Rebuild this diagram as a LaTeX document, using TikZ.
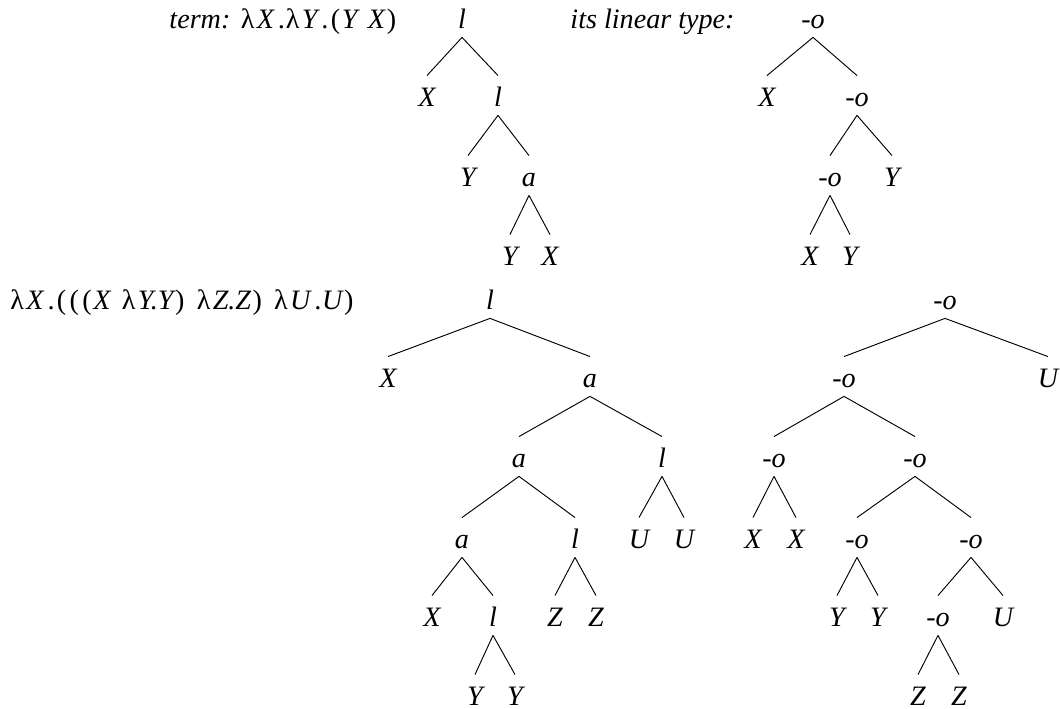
\documentclass[tikz,border=0pt]{standalone}
\usepackage{fontspec}
\setmainfont{Liberation Serif}
\usepackage{tikz}

\newcommand{\lm}{\textup{λ}\kern1pt}
\newcommand{\lp}{\kern.7pt\textup{(}\kern.7pt}
\newcommand{\rp}{\kern.7pt\textup{)}\kern.7pt}
\tikzset{
  tn/.style={anchor=base, inner sep=0pt, text height=12.8pt, text depth=3.8pt,
    font=\fontsize{12}{14}\selectfont\itshape},
  lab/.style={anchor=base west, inner sep=0pt, font=\fontsize{12}{14}\selectfont\itshape}
}

\begin{document}
\begin{tikzpicture}[x=0.015cm, y=-0.015cm]
\useasboundingbox (0,0) rectangle (1060,708);

\node[lab] (term) at (169,28){term:\hspace{4.5pt}\lm X\kern2pt.\lm Y\kern2pt.\lp Y\hspace{4.5pt}X\rp};
\node[lab] (ltype) at (570,28){its linear type:};
\node[lab] (term2) at (10,309){\lm X\kern2pt.\lp\lp\lp X\hspace{4.5pt}\lm Y.Y\rp\hspace{4.5pt}\lm Z.Z\rp\hspace{4.5pt}\lm U\kern2pt.U\rp};

% term tree
\node[tn] (t1) at (462,28){l};
\node[tn] (t2) at (427,106){X};
\node[tn] (t3) at (498,106){l};
\node[tn] (t4) at (468,186){Y};
\node[tn] (t5) at (529,186){a};
\node[tn] (t6) at (510,265){Y};
\node[tn] (t7) at (550,265){X};
\foreach \from/\to in {1/2,1/3,3/4,3/5,5/6,5/7}
\draw (t\from.south) -- (t\to.north);

% its type
\node[tn] (y1) at (813,28){-o};
\node[tn] (y2) at (767,106){X};
\node[tn] (y3) at (857,106){-o};
\node[tn] (y4) at (830,186){-o};
\node[tn] (y5) at (892,186){Y};
\node[tn] (y6) at (810,265){X};
\node[tn] (y7) at (850,265){Y};
\foreach \from/\to in {1/2,1/3,3/4,3/5,4/6,4/7}
\draw (y\from.south) -- (y\to.north);

% second term
\node[tn] (b1) at (490,309){l};
\node[tn] (b2) at (388,387){X};
\node[tn] (b3) at (590,387){a};
\node[tn] (b4) at (519,467){a};
\node[tn] (b5) at (662,467){l};
\node[tn] (b6) at (462,548){a};
\node[tn] (b7) at (575,548){l};
\node[tn] (b8) at (639,548){U};
\node[tn] (b9) at (684,548){U};
\node[tn] (b10) at (432,626){X};
\node[tn] (b11) at (493,626){l};
\node[tn] (b12) at (555,626){Z};
\node[tn] (b13) at (596,626){Z};
\node[tn] (b14) at (475,705){Y};
\node[tn] (b15) at (515,705){Y};
\foreach \from/\to in
{1/2,1/3,3/4,3/5,4/6,4/7,5/8,5/9,6/10,6/11,7/12,7/13,11/14,11/15}
\draw (b\from.south) -- (b\to.north);

% second type
\node[tn] (c1) at (945,309){-o};
\node[tn] (c2) at (844,387){-o};
\node[tn] (c3) at (1048,387){U};
\node[tn] (c4) at (774,467){-o};
\node[tn] (c5) at (915,467){-o};
\node[tn] (c6) at (753,548){X};
\node[tn] (c7) at (796,548){X};
\node[tn] (c8) at (857,548){-o};
\node[tn] (c9) at (971,548){-o};
\node[tn] (c10) at (837,626){Y};
\node[tn] (c11) at (878,626){Y};
\node[tn] (c12) at (938,626){-o};
\node[tn] (c13) at (1003,626){U};
\node[tn] (c14) at (918,705){Z};
\node[tn] (c15) at (959,705){Z};
\foreach \from/\to in
{1/2,1/3,2/4,2/5,4/6,4/7,5/8,5/9,8/10,8/11,9/12,9/13,12/14,12/15}
\draw (c\from.south) -- (c\to.north);
\end{tikzpicture}
\end{document}
